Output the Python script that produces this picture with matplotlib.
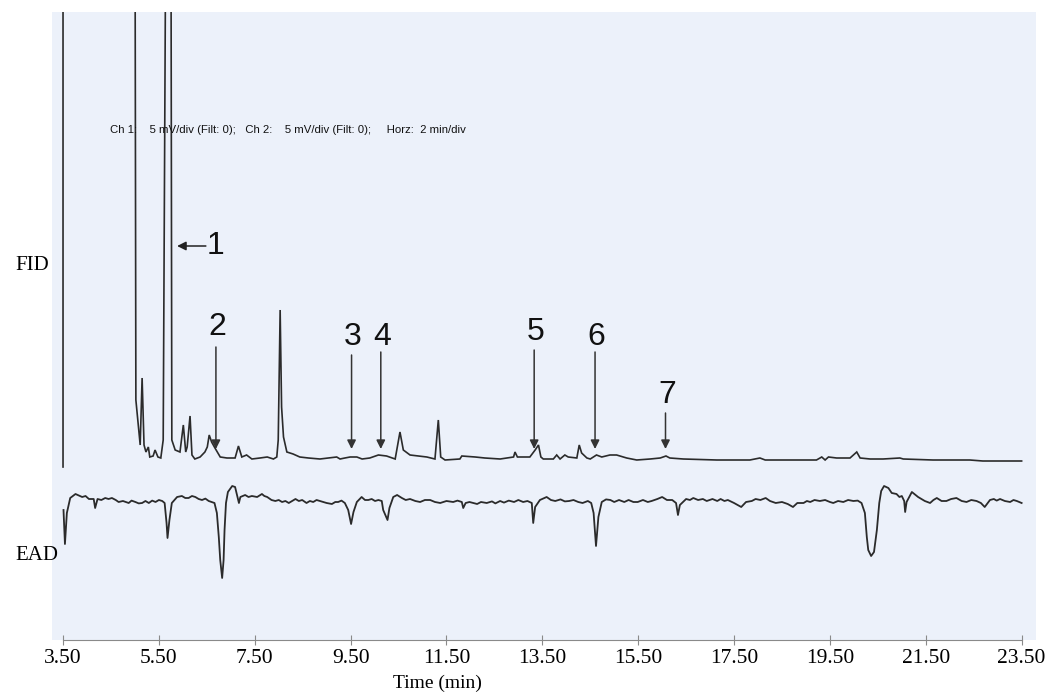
import matplotlib
matplotlib.use("Agg")
import matplotlib.pyplot as plt

# ---------------- data ----------------
# FID trace: retention time (min) and signal (mV, baseline ~0; 30 = off-scale)
fid_time = [3.50, 3.50, 5.00, 5.02, 5.11, 5.15, 5.19, 5.23, 5.28, 5.31, 5.38, 5.42,
            5.48, 5.54, 5.59, 5.65, 5.75, 5.77, 5.84, 5.94, 6.01, 6.06, 6.09, 6.15,
            6.19, 6.25, 6.36, 6.46, 6.51, 6.55, 6.60, 6.67, 6.78, 6.92, 7.09, 7.16,
            7.23, 7.33, 7.44, 7.61, 7.76, 7.89, 7.96, 7.99, 8.03, 8.06, 8.10, 8.17,
            8.30, 8.44, 8.62, 8.86, 9.21, 9.28, 9.38, 9.49, 9.63, 9.74, 9.90, 10.08,
            10.25, 10.43, 10.53, 10.60, 10.74, 11.09, 11.26, 11.33, 11.38, 11.47, 11.78,
            11.82, 12.10, 12.30, 12.62, 12.90, 12.93, 12.98, 13.24, 13.35, 13.42, 13.47,
            13.52, 13.73, 13.80, 13.87, 13.97, 14.04, 14.22, 14.27, 14.32, 14.43, 14.50,
            14.63, 14.74, 14.91, 15.05, 15.26, 15.47, 15.75, 15.96, 16.08, 16.16, 16.44,
            17.14, 17.83, 18.04, 18.15, 18.52, 19.22, 19.33, 19.40, 19.47, 19.64, 19.92,
            20.06, 20.13, 20.34, 20.61, 20.96, 21.03, 21.65, 22.42, 22.69, 23.50]
fid_signal = [-0.35, 30.0, 30.0, 3.00, 0.75, 4.10, 0.75, 0.40, 0.65, 0.15, 0.20, 0.50,
              0.15, 0.10, 1.00, 30.0, 30.0, 1.00, 0.50, 0.40, 1.75, 0.40, 0.65, 2.20,
              0.25, 0.05, 0.15, 0.40, 0.65, 1.25, 0.90, 0.60, 0.15, 0.10, 0.10, 0.70,
              0.15, 0.25, 0.05, 0.10, 0.15, 0.05, 0.15, 1.00, 7.50, 2.65, 1.15, 0.40,
              0.30, 0.15, 0.10, 0.05, 0.15, 0.05, 0.10, 0.15, 0.15, 0.05, 0.10, 0.25,
              0.20, 0.05, 1.40, 0.50, 0.25, 0.15, 0.05, 2.00, 0.15, 0.00, 0.05,
              0.20, 0.15, 0.10, 0.05, 0.15, 0.40, 0.15, 0.15, 0.50, 0.75, 0.15,
              0.05, 0.05, 0.25, 0.05, 0.25, 0.15, 0.10, 0.75, 0.35, 0.10, 0.05,
              0.25, 0.15, 0.25, 0.25, 0.10, 0.00, 0.05, 0.10, 0.20, 0.10, 0.05,
              0.00, 0.00, 0.10, 0.00, 0.00, 0.00, 0.15, 0.00, 0.15, 0.10, 0.10,
              0.40, 0.10, 0.05, 0.05, 0.10, 0.05, 0.00, 0.00, -0.05, -0.05]

# EAD trace: (time in min, antennal response in mV, baseline ~0)
ead_points = [
    (3.51, -0.45), (3.54, -2.15), (3.58, -0.60), (3.65, 0.15), (3.76, 0.35), (3.90, 0.20),
    (3.97, 0.25), (4.04, 0.10), (4.14, 0.10), (4.17, -0.35), (4.22, 0.10), (4.30, 0.05),
    (4.38, 0.15), (4.45, 0.10), (4.52, 0.15), (4.60, 0.05), (4.66, -0.05), (4.75, 0.00),
    (4.87, -0.10), (4.93, 0.02), (5.01, -0.05), (5.08, -0.12), (5.15, -0.10), (5.22, 0.00),
    (5.29, -0.10), (5.36, 0.02), (5.43, -0.05), (5.50, 0.05), (5.57, 0.00), (5.62, -0.10),
    (5.66, -1.10), (5.68, -1.85), (5.72, -0.95), (5.77, -0.10), (5.88, 0.20), (5.98, 0.25),
    (6.05, 0.15), (6.12, 0.15), (6.19, 0.25), (6.26, 0.20), (6.33, 0.10), (6.40, 0.05),
    (6.47, 0.12), (6.54, 0.00), (6.66, -0.10), (6.71, -0.60), (6.75, -1.80), (6.78, -2.95),
    (6.82, -3.85), (6.85, -2.95), (6.87, -1.45), (6.90, -0.10), (6.94, 0.45), (7.03, 0.75),
    (7.09, 0.70), (7.13, 0.30), (7.17, -0.10), (7.20, 0.20), (7.30, 0.30), (7.37, 0.20),
    (7.44, 0.25), (7.55, 0.20), (7.65, 0.35), (7.70, 0.25), (7.76, 0.20), (7.85, 0.05),
    (7.93, 0.00), (8.00, 0.05), (8.07, -0.05), (8.14, 0.00), (8.21, -0.10), (8.28, 0.00),
    (8.35, 0.10), (8.42, 0.00), (8.49, 0.05), (8.58, -0.10), (8.65, 0.00), (8.72, -0.05),
    (8.79, 0.05), (8.86, 0.00), (8.93, -0.05), (9.00, -0.10), (9.11, -0.15), (9.18, -0.05),
    (9.24, -0.05), (9.31, 0.02), (9.38, -0.10), (9.45, -0.45), (9.51, -1.15), (9.56, -0.55),
    (9.63, -0.05), (9.73, 0.20), (9.80, 0.05), (9.87, 0.05), (9.94, 0.10), (10.01, 0.00),
    (10.08, 0.05), (10.15, 0.00), (10.18, -0.45), (10.27, -0.95), (10.31, -0.35),
    (10.39, 0.20), (10.47, 0.30), (10.57, 0.15), (10.65, 0.05), (10.74, 0.10), (10.85, 0.00),
    (10.95, -0.05), (11.05, 0.05), (11.16, 0.05), (11.26, -0.05), (11.37, -0.10),
    (11.50, 0.00), (11.64, -0.05), (11.73, 0.02), (11.82, -0.05), (11.85, -0.35),
    (11.90, -0.10), (11.98, -0.05), (12.06, -0.10), (12.14, -0.15), (12.22, -0.05),
    (12.34, -0.10), (12.45, -0.02), (12.52, -0.12), (12.62, 0.00), (12.70, -0.08),
    (12.80, 0.02), (12.91, -0.05), (13.00, 0.05), (13.10, -0.05), (13.19, 0.00),
    (13.28, -0.10), (13.31, -1.10), (13.35, -0.30), (13.45, 0.05), (13.59, 0.20),
    (13.68, 0.05), (13.77, 0.00), (13.88, 0.08), (13.97, -0.02), (14.06, 0.00),
    (14.15, 0.05), (14.25, -0.05), (14.34, -0.10), (14.45, 0.00), (14.52, -0.10),
    (14.57, -0.60), (14.62, -2.25), (14.67, -0.80), (14.74, -0.05), (14.83, 0.08),
    (14.92, 0.05), (15.00, -0.05), (15.10, 0.05), (15.21, -0.05), (15.30, 0.05),
    (15.40, -0.05), (15.49, -0.05), (15.60, 0.05), (15.70, -0.05), (15.78, 0.00),
    (15.90, 0.10), (16.00, 0.20), (16.10, 0.05), (16.21, 0.05), (16.29, -0.10),
    (16.33, -0.70), (16.37, -0.20), (16.50, 0.10), (16.58, 0.05), (16.65, 0.15),
    (16.75, 0.05), (16.85, 0.10), (16.93, 0.00), (17.05, 0.10), (17.15, 0.00),
    (17.22, 0.10), (17.30, 0.00), (17.37, 0.05), (17.50, -0.10), (17.65, -0.30),
    (17.75, -0.05), (17.87, 0.00), (17.95, 0.10), (18.05, 0.05), (18.16, 0.15),
    (18.25, 0.00), (18.37, -0.10), (18.50, -0.05), (18.62, -0.15), (18.73, -0.30),
    (18.82, -0.10), (18.95, -0.10), (19.02, 0.00), (19.09, -0.05), (19.18, 0.05),
    (19.29, 0.00), (19.40, 0.05), (19.50, -0.05), (19.57, -0.10), (19.67, 0.00),
    (19.78, -0.05), (19.88, 0.05), (19.99, 0.00), (20.08, 0.02), (20.16, -0.10),
    (20.23, -0.60), (20.27, -1.80), (20.30, -2.45), (20.36, -2.75), (20.42, -2.55),
    (20.48, -1.45), (20.53, -0.10), (20.57, 0.50), (20.63, 0.75), (20.72, 0.65),
    (20.79, 0.40), (20.89, 0.35), (20.95, 0.20), (21.00, 0.25), (21.05, 0.00),
    (21.07, -0.55), (21.10, -0.05), (21.21, 0.45), (21.34, 0.20), (21.41, 0.10),
    (21.48, 0.00), (21.59, -0.10), (21.66, 0.05), (21.73, 0.15), (21.83, 0.00),
    (21.93, 0.00), (22.03, 0.10), (22.14, 0.15), (22.25, 0.00), (22.35, -0.05),
    (22.45, 0.05), (22.56, 0.00), (22.65, -0.10), (22.73, -0.30), (22.84, 0.05),
    (22.92, 0.10), (22.98, 0.02), (23.05, 0.10), (23.15, 0.00), (23.26, -0.05),
    (23.33, 0.05), (23.40, 0.00), (23.50, -0.10),
]
ead_time = [p[0] for p in ead_points]
ead_signal = [p[1] for p in ead_points]

# Labelled compounds: label, retention time (min)
peak_labels = ["2", "3", "4", "5", "6", "7"]
peak_times = [6.69, 9.52, 10.13, 13.33, 14.60, 16.07]
peak1_time = 5.88

tick_values = [3.5, 5.5, 7.5, 9.5, 11.5, 13.5, 15.5, 17.5, 19.5, 21.5, 23.5]
tick_labels = ["3.50", "5.50", "7.50", "9.50", "11.50", "13.50", "15.50",
               "17.50", "19.50", "21.50", "23.50"]
header = "Ch 1:    5 mV/div (Filt: 0);   Ch 2:    5 mV/div (Filt: 0);     Horz:  2 min/div"

# ---------------- layout / style ----------------
FID_OFFSET = 9.0
EAD_OFFSET = 6.95
BG = "#ECF1FA"
TRACE = "#2b2b2b"
SANS = "Liberation Sans"
SERIF = "Liberation Serif"

fig = plt.figure(figsize=(10.54, 6.96), dpi=100)
ax = fig.add_axes([52 / 1054, 1 - 640 / 696, 984 / 1054, 628 / 696])
ax.set_facecolor(BG)
ax.set_xlim(3.27, 23.80)
ax.set_ylim(0, 31.4)

ax.plot(fid_time, [v + FID_OFFSET for v in fid_signal], color=TRACE, lw=1.2,
        solid_joinstyle="miter")
ax.plot(ead_time, [v + EAD_OFFSET for v in ead_signal], color=TRACE, lw=1.3)

# arrows + labels (arrow top, label centre in axis units)
arrow_top = {"2": 14.65, "3": 14.25, "4": 14.4, "5": 14.5, "6": 14.4, "7": 11.35}
label_y = {"2": 15.65, "3": 15.15, "4": 15.15, "5": 15.4, "6": 15.15, "7": 12.25}
for lab, t in zip(peak_labels, peak_times):
    top = arrow_top[lab]
    ax.annotate("", xy=(t, 9.55), xytext=(t, top),
                arrowprops=dict(arrowstyle="-|>", color="#333333", lw=1.1,
                                mutation_scale=13, shrinkA=0, shrinkB=0))
    ax.text(t + 0.03, label_y[lab], lab, ha="center", va="center",
            fontsize=23, family=SANS, color="#111111")
ax.annotate("", xy=(peak1_time, 19.7), xytext=(peak1_time + 0.60, 19.7),
            arrowprops=dict(arrowstyle="-|>", color="#222222", lw=1.1,
                            mutation_scale=13, shrinkA=0, shrinkB=0))
ax.text(peak1_time + 0.62, 19.7, "1", ha="left", va="center",
        fontsize=23, family=SANS, color="#111111")

ax.text(4.48, 25.5, header, ha="left", va="center", fontsize=8.2,
        family=SANS, color="#111111")

# axes cosmetics
for s in ["top", "left", "right"]:
    ax.spines[s].set_visible(False)
ax.spines["bottom"].set_color("#8a8a8a")
ax.spines["bottom"].set_bounds(3.5, 23.5)
ax.set_yticks([])
ax.set_xticks(tick_values)
ax.set_xticklabels(tick_labels, family=SERIF, fontsize=15.5)
ax.tick_params(axis="x", direction="inout", length=7, color="#8a8a8a", pad=3)
ax.set_xlabel("Time (min)", family=SERIF, fontsize=14)
ax.xaxis.set_label_coords((437 - 52) / 984, -0.055)

fig.text(15 / 1054, 1 - 265 / 696, "FID", family=SERIF, fontsize=15,
         ha="left", va="center")
fig.text(15 / 1054, 1 - 555 / 696, "EAD", family=SERIF, fontsize=15,
         ha="left", va="center")

fig.savefig("out.png", dpi=100, facecolor="white")
